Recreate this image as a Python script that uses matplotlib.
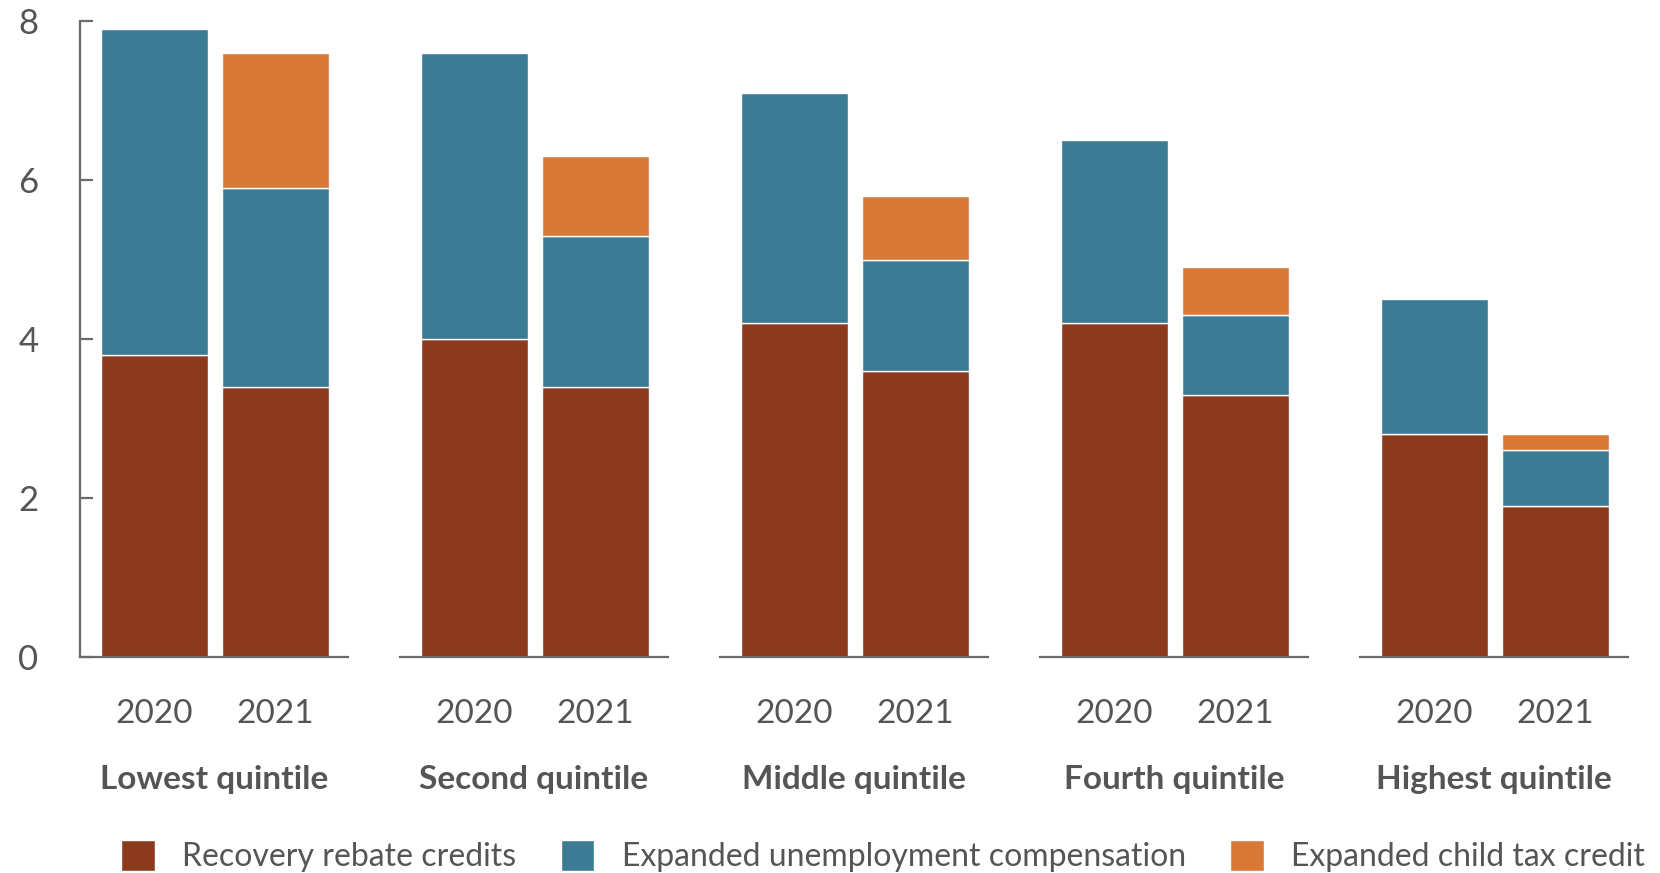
import matplotlib.pyplot as plt
import numpy as np
from matplotlib.patches import Patch

# Data
quintiles = ["Lowest quintile", "Second quintile", "Middle quintile", "Fourth quintile", "Highest quintile"]
years = ["2020", "2021"]
rebate = [[3.8, 3.4], [4.0, 3.4], [4.2, 3.6], [4.2, 3.3], [2.8, 1.9]]
unemployment = [[4.1, 2.5], [3.6, 1.9], [2.9, 1.4], [2.3, 1.0], [1.7, 0.7]]
child_credit = [[0.0, 1.7], [0.0, 1.0], [0.0, 0.8], [0.0, 0.6], [0.0, 0.2]]
series_names = ["Recovery rebate credits", "Expanded unemployment compensation", "Expanded child tax credit"]

COLORS = ["#8B3A1E", "#3B7B93", "#D97938"]
TEXT = "#555555"
AXIS = "#6b6b6b"

plt.rcParams['font.family'] = ['Lato', 'DejaVu Sans']

W, H = 1660, 873
fig = plt.figure(figsize=(W / 100, H / 100), dpi=100)

left0 = 80 / W
pw = 268 / W
step = 320 / W
bottom = 1 - 657 / H
height = (657 - 21) / H

x = np.arange(len(years))
for i, q in enumerate(quintiles):
    ax = fig.add_axes([left0 + i * step, bottom, pw, height])
    r = np.array(rebate[i])
    u = np.array(unemployment[i])
    c = np.array(child_credit[i])
    ax.bar(x, r, width=0.885, color=COLORS[0], edgecolor="white", linewidth=1)
    ax.bar(x, u, width=0.885, bottom=r, color=COLORS[1], edgecolor="white", linewidth=1)
    mask = c > 0
    ax.bar(x[mask], c[mask], width=0.885, bottom=(r + u)[mask], color=COLORS[2], edgecolor="white", linewidth=1)

    ax.set_xlim(-0.615, 1.6)
    ax.set_ylim(0, 8)
    ax.set_xticks(x)
    ax.set_xticklabels(years, fontsize=24, color=TEXT)
    ax.tick_params(axis='x', length=0, pad=30)
    ax.set_xlabel(q, fontsize=24, fontweight='bold', color=TEXT, labelpad=26)

    for s in ["top", "right"]:
        ax.spines[s].set_visible(False)
    ax.spines["bottom"].set_color(AXIS)
    ax.spines["bottom"].set_linewidth(1.6)

    if i == 0:
        ax.spines["left"].set_color(AXIS)
        ax.spines["left"].set_linewidth(1.6)
        ax.set_yticks([0, 2, 4, 6, 8])
        ax.tick_params(axis='y', direction='in', length=9, width=1.6, color=AXIS,
                       labelsize=25, labelcolor=TEXT, pad=30)
    else:
        ax.spines["left"].set_visible(False)
        ax.set_yticks([])

handles = [Patch(facecolor=col, edgecolor="white") for col in COLORS]
fig.legend(handles, series_names, loc="lower center", bbox_to_anchor=(0.532, -0.032), ncol=3,
           frameon=False, fontsize=23, labelcolor=TEXT, handlelength=1.05, handleheight=1.1,
           columnspacing=1.4, handletextpad=0.85)

fig.savefig("out.png", dpi=100)
